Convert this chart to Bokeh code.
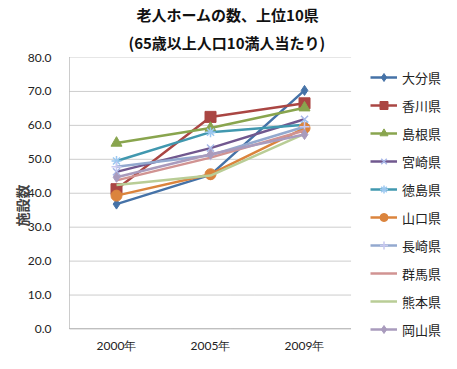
from bokeh.plotting import figure
from bokeh.models import (Range1d, FixedTicker, PrintfTickFormatter,
                          Legend, LegendItem, Title)
from bokeh.embed import file_html
from bokeh.resources import INLINE

years = ["2000年", "2005年", "2009年"]
prefs = ["大分県", "香川県", "島根県", "宮崎県", "徳島県",
         "山口県", "長崎県", "群馬県", "熊本県", "岡山県"]
oita = [36.8, 45.4, 70.3]
kagawa = [41.2, 62.5, 66.5]
shimane = [54.8, 59.2, 65.2]
miyazaki = [46.3, 53.3, 61.8]
tokushima = [49.5, 58.0, 60.2]
yamaguchi = [39.3, 45.6, 59.2]
nagasaki = [47.8, 51.2, 59.6]
gunma = [43.8, 50.5, 58.5]
kumamoto = [42.4, 45.2, 57.5]
okayama = [44.7, 51.5, 57.3]
series = [oita, kagawa, shimane, miyazaki, tokushima,
          yamaguchi, nagasaki, gunma, kumamoto, okayama]
y_ticks = [0, 10, 20, 30, 40, 50, 60, 70, 80]

colors = ["#4572A7", "#AA4643", "#89A54E", "#71588F", "#4198AF",
          "#DB843D", "#93A9CF", "#D19392", "#B9CD96", "#A99BBD"]
marker_line = ["#4572A7", "#AA4643", "#89A54E", "#A8B8E8", "#9CC8F0",
               "#DB843D", "#C8C8F0", None, None, "#A99BBD"]
markers = ["diamond", "square", "triangle", "x", "asterisk",
           "circle", "cross", None, None, "diamond"]
msizes = [10, 11, 11, 10, 10, 11, 10, 0, 0, 10]

xs = list(range(len(years)))
x_lo, x_hi = -0.5, len(years) - 0.5

p = figure(width=441, height=353, x_range=Range1d(x_lo, 3.457),
           y_range=Range1d(-7.22, 80), output_backend="svg",
           toolbar_location=None, min_border_left=69, min_border_right=0,
           min_border_top=55, min_border_bottom=0)
p.outline_line_color = None
p.grid.grid_line_color = None

p.title.text = "老人ホームの数、上位10県"
p.title.align = "left"
p.title.offset = 67
p.title.text_font = "Noto Sans CJK JP"
p.title.text_font_style = "bold"
p.title.text_font_size = "15px"
p.title.text_color = "#111111"
p.title.standoff = 2
t2 = Title(text="(65歳以上人口10満人当たり)", align="left", offset=59,
           text_font="Noto Sans CJK JP", text_font_style="bold",
           text_font_size="15px", text_color="#111111", standoff=9)
p.add_layout(t2, "above")

# gridlines only across the category area
p.segment(x0=x_lo, x1=x_hi, y0=y_ticks, y1=y_ticks, line_color="#9a9a9a",
          line_width=1, line_dash="1 1")

yax = p.yaxis[0]
yax.ticker = FixedTicker(ticks=y_ticks)
yax.formatter = PrintfTickFormatter(format="%.1f")
yax.bounds = (0, 80)
yax.axis_label = "施設数"
yax.axis_label_text_font = "Noto Sans CJK JP"
yax.axis_label_text_font_style = "bold"
yax.axis_label_text_font_size = "14px"
yax.axis_label_standoff = -7
yax.major_label_standoff = 12

xax = p.xaxis[0]
xax.ticker = FixedTicker(ticks=xs)
xax.major_label_overrides = {i: y for i, y in zip(xs, years)}
xax.bounds = (x_lo, x_hi)
xax.fixed_location = 0
xax.major_label_standoff = 3

for ax in (xax, yax):
    ax.axis_line_color = "#999999"
    ax.axis_line_dash = "1 1"
    ax.major_tick_line_color = None
    ax.minor_tick_line_color = None
    ax.major_label_text_font = "Lato"
    ax.major_label_text_font_size = "12px"
    ax.major_label_text_color = "#222222"

items = []
for name, vals, c, mk, ml, ms in zip(prefs, series, colors, markers, marker_line, msizes):
    r1 = p.line(xs, vals, line_color=c, line_width=2.5)
    rs = [r1]
    if mk is not None:
        if mk in ("x", "asterisk", "cross"):
            r2 = p.scatter(xs, vals, marker=mk, size=ms, line_color=ml,
                           line_width=1.5, fill_color=None)
        else:
            r2 = p.scatter(xs, vals, marker=mk, size=ms, fill_color=c,
                           line_color=c, line_width=1)
        rs.append(r2)
    items.append(LegendItem(label=name, renderers=rs))

legend = Legend(items=items, location=(301, 14), padding=0, margin=0,
                spacing=8, glyph_width=27, glyph_height=20, label_height=20,
                label_standoff=5, border_line_alpha=0, background_fill_alpha=0,
                label_text_font="Noto Sans CJK JP", label_text_font_size="13px",
                label_text_color="#222222")
p.add_layout(legend, "center")

open("out.html", "w").write(file_html(p, INLINE))
